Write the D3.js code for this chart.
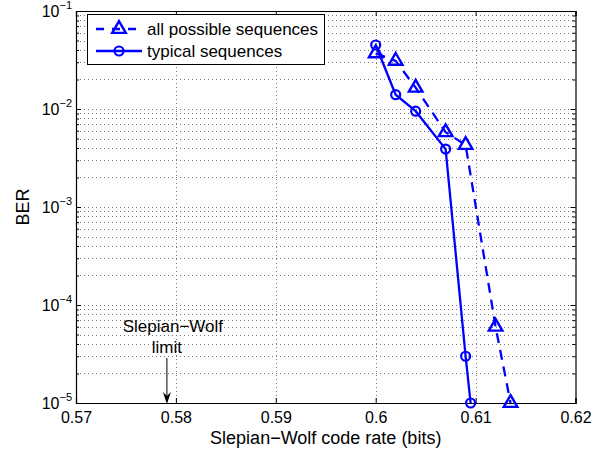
<!DOCTYPE html>
<html>
<head>
<meta charset="utf-8">
<script src="https://cdn.jsdelivr.net/npm/d3@7"></script>
<style>
  body { margin: 0; background: #fff; }
  text { font-family: "Liberation Sans", Arial, sans-serif; fill: #000; }
</style>
</head>
<body>
<svg id="chart" width="608" height="453"></svg>
<script>
// all possible sequences (dashed, triangles)
const allRate = [0.600, 0.602, 0.604, 0.607, 0.609, 0.612, 0.6135];
const allBer  = [3.7e-2, 3.1e-2, 1.65e-2, 5.8e-3, 4.3e-3, 6.0e-5, 1.0e-5];
// typical sequences (solid, circles)
const typRate = [0.600, 0.602, 0.604, 0.607, 0.609, 0.6095];
const typBer  = [4.5e-2, 1.4e-2, 9.5e-3, 3.9e-3, 3.0e-5, 1.0e-5];

const xTicks = [0.57, 0.58, 0.59, 0.60, 0.61, 0.62];
const yExps = [-1, -2, -3, -4, -5];
const swLimit = 0.5791;

const svg = d3.select("#chart");
const pL = 76, pR = 575.5, pT = 11, pB = 403;
const blue = "#0000ff";

let x = d3.scaleLinear().domain([0.57, 0.62]).range([pL, pR]);
let y = d3.scaleLog().domain([1e-5, 1e-1]).range([pB, pT]);

// minor log ticks
let minor = [];
for (let e = -5; e < -1; e++) {
    for (let m = 2; m <= 9; m++) minor.push(m * Math.pow(10, e));
}
let majorY = yExps.map(e => Math.pow(10, e));

// dotted grid
let grid = svg.append("g").attr("stroke", "#777").attr("stroke-width", 1)
    .attr("stroke-dasharray", "1,3").attr("shape-rendering", "crispEdges");
grid.selectAll(".gx").data(xTicks.slice(1, -1)).join("line")
    .attr("class", "gx")
    .attr("x1", d => Math.round(x(d)) + 0.5).attr("x2", d => Math.round(x(d)) + 0.5)
    .attr("y1", pT).attr("y2", pB);
grid.selectAll(".gy").data(minor.concat(majorY.slice(1, -1))).join("line")
    .attr("class", "gy")
    .attr("x1", pL).attr("x2", pR)
    .attr("y1", d => Math.round(y(d)) + 0.5).attr("y2", d => Math.round(y(d)) + 0.5);

// axes (box with ticks inward)
let axB = d3.axisBottom(x).tickValues(xTicks).tickSize(-5).tickFormat(d3.format("~g")).tickPadding(9);
let axT = d3.axisTop(x).tickValues(xTicks).tickSize(-5).tickFormat("");
let axL = d3.axisLeft(y).tickValues(majorY).tickSize(-5).tickFormat("");
let axR = d3.axisRight(y).tickValues(majorY).tickSize(-5).tickFormat("");
let axLm = d3.axisLeft(y).tickValues(minor).tickSize(-3).tickFormat("");
let axRm = d3.axisRight(y).tickValues(minor).tickSize(-3).tickFormat("");

function styleAxis(g) {
    g.select(".domain").attr("stroke", "#000").attr("stroke-width", 1.2);
    g.selectAll(".tick line").attr("stroke", "#000");
    g.selectAll(".tick text").attr("font-size", 16).attr("font-family", "Liberation Sans, Arial, sans-serif").attr("fill", "#000");
}
svg.append("g").attr("transform", `translate(0,${pB})`).call(axB).call(styleAxis);
svg.append("g").attr("transform", `translate(0,${pT})`).call(axT).call(styleAxis);
svg.append("g").attr("transform", `translate(${pL},0)`).call(axL).call(styleAxis);
svg.append("g").attr("transform", `translate(${pR},0)`).call(axR).call(styleAxis);
svg.append("g").attr("transform", `translate(${pL},0)`).call(axLm).call(styleAxis).select(".domain").remove();
svg.append("g").attr("transform", `translate(${pR},0)`).call(axRm).call(styleAxis).select(".domain").remove();

// y tick labels 10^k
yExps.forEach(e => {
    let t = svg.append("text").attr("x", 72).attr("y", y(Math.pow(10, e)) + 6)
        .attr("text-anchor", "end").attr("font-size", 16);
    t.append("tspan").text("10");
    t.append("tspan").attr("dy", -8).attr("font-size", 11).text("\u2212" + (-e));
});

// axis labels
svg.append("text").attr("x", (pL + pR) / 2).attr("y", 444)
    .attr("text-anchor", "middle").attr("font-size", 18).text("Slepian\u2212Wolf code rate (bits)");
svg.append("text").attr("transform", `translate(29,${(pT + pB) / 2}) rotate(-90)`)
    .attr("text-anchor", "middle").attr("font-size", 18).text("BER");

// series
let line = d3.line().x(d => x(d[0])).y(d => y(d[1]));
let allPts = allRate.map((r, i) => [r, allBer[i]]);
let typPts = typRate.map((r, i) => [r, typBer[i]]);

svg.append("path").datum(allPts).attr("d", line).attr("fill", "none")
    .attr("stroke", blue).attr("stroke-width", 2.3).attr("stroke-dasharray", "10,7");
svg.append("path").datum(typPts).attr("d", line).attr("fill", "none")
    .attr("stroke", blue).attr("stroke-width", 2.3);

let tri = d3.symbol().type(d3.symbolTriangle).size(80);
svg.selectAll(".tri").data(allPts).join("path")
    .attr("class", "tri")
    .attr("transform", d => `translate(${x(d[0])},${y(d[1])})`)
    .attr("d", tri).attr("fill", "none").attr("stroke", blue).attr("stroke-width", 2.4);
svg.selectAll(".circ").data(typPts).join("circle")
    .attr("class", "circ")
    .attr("cx", d => x(d[0])).attr("cy", d => y(d[1])).attr("r", 4.5)
    .attr("fill", "none").attr("stroke", blue).attr("stroke-width", 2.2);

// Slepian-Wolf limit annotation
svg.append("text").attr("x", x(swLimit) + 6).attr("y", 332).attr("text-anchor", "middle")
    .attr("font-size", 17).text("Slepian\u2212Wolf");
svg.append("text").attr("x", x(swLimit)).attr("y", 353).attr("text-anchor", "middle")
    .attr("font-size", 17).text("limit");
svg.append("line").attr("x1", x(swLimit)).attr("x2", x(swLimit)).attr("y1", 358).attr("y2", 396)
    .attr("stroke", "#000").attr("stroke-width", 1);
svg.append("path").attr("d", d3.line()([[x(swLimit) - 4, 392], [x(swLimit), 404], [x(swLimit) + 4, 392], [x(swLimit), 396]]) + "Z")
    .attr("fill", "#000");

// legend
let lg = svg.append("g");
lg.append("rect").attr("x", 87.5).attr("y", 14.5).attr("width", 237).attr("height", 50)
    .attr("fill", "#fff").attr("stroke", "#000").attr("stroke-width", 1);
let legendRows = [
    { label: "all possible sequences", dash: "8,8", marker: "tri" },
    { label: "typical sequences", dash: null, marker: "circ" }
];
legendRows.forEach((r, i) => {
    let cy = 29 + i * 22;
    lg.append("line").attr("x1", 96).attr("x2", 142).attr("y1", cy).attr("y2", cy)
        .attr("stroke", blue).attr("stroke-width", 2.3).attr("stroke-dasharray", r.dash);
    if (r.marker === "tri") {
        lg.append("path").attr("transform", `translate(119,${cy})`).attr("d", tri)
            .attr("fill", "none").attr("stroke", blue).attr("stroke-width", 2.4);
    } else {
        lg.append("circle").attr("cx", 119).attr("cy", cy).attr("r", 4.5)
            .attr("fill", "none").attr("stroke", blue).attr("stroke-width", 2.2);
    }
    lg.append("text").attr("x", 147).attr("y", cy + 6).attr("font-size", 17).text(r.label);
});
</script>
</body>
</html>
